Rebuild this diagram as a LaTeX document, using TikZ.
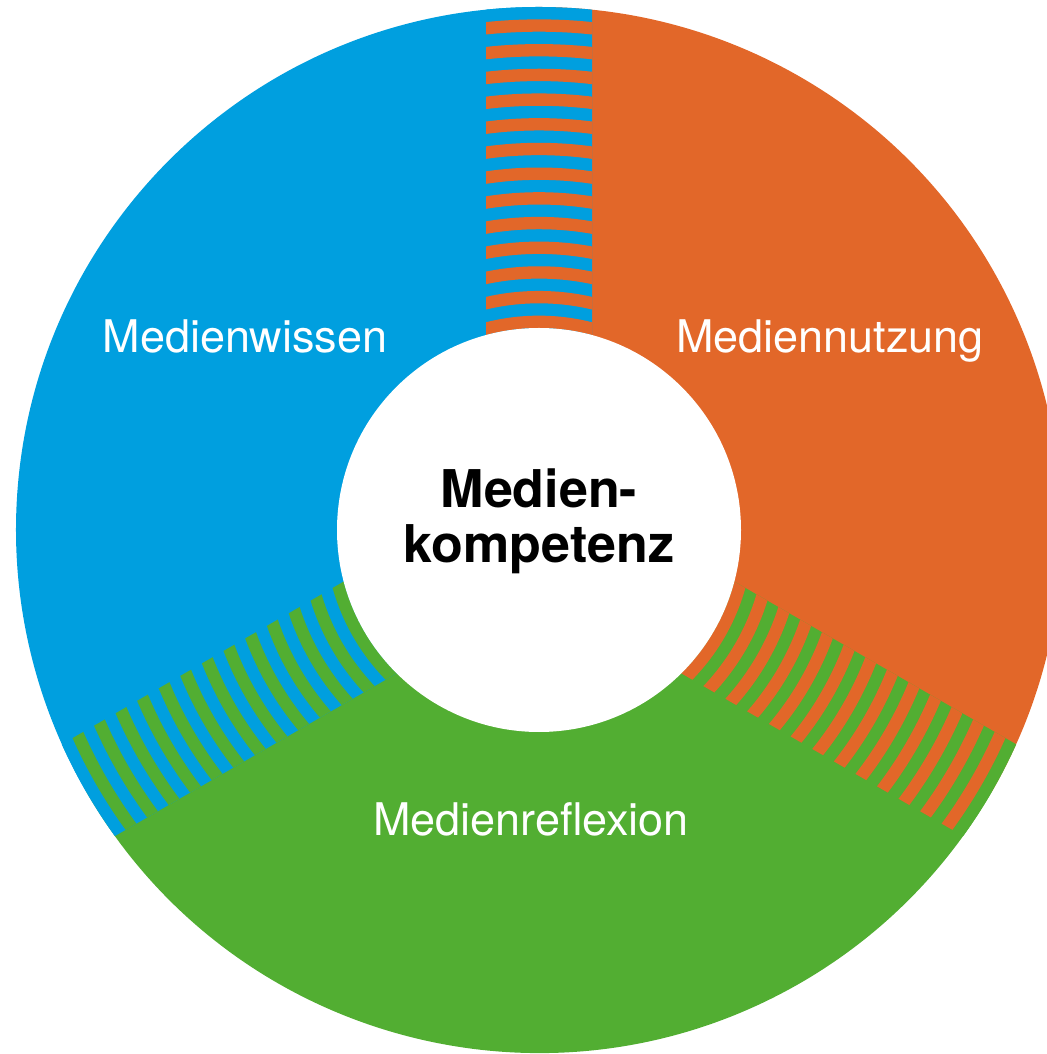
\documentclass[tikz,border=0pt]{standalone}
\usepackage{fontspec}
\setmainfont{TeX Gyre Heros}
\definecolor{mwblau}{RGB}{0,159,223}
\definecolor{mnorange}{RGB}{226,103,41}
\definecolor{mrgruen}{RGB}{82,174,50}

\begin{document}
\begin{tikzpicture}[
    segtext/.style={white,anchor=base,font=\fontsize{25.6}{30}\selectfont},
    kerntext/.style={black,align=center,font=\bfseries\fontsize{29.6}{31.3}\selectfont}]
\def\aussen{10.46}
\def\innen{4.04}
\def\streifen{0.2469}
\useasboundingbox (-10.78,-10.48) rectangle (10.16,10.6);
\clip (-10.78,-10.48) rectangle (10.16,10.6);
% drei Segmente
\fill[mwblau] (0,0) -- (90:\aussen) arc (90:210:\aussen) -- cycle;
\fill[mrgruen] (0,0) -- (210:\aussen) arc (210:330:\aussen) -- cycle;
\fill[mnorange] (0,0) -- (330:\aussen) arc (330:450:\aussen) -- cycle;
% gestreifte Uebergaenge
\foreach \w/\a/\b in {90/mnorange/mwblau, 210/mrgruen/mwblau, 330/mnorange/mrgruen} {
  \begin{scope}
    \clip[rotate=\w] (0,-1.06) rectangle (11,1.06);
    \fill[\b] (0,0) circle [radius=\aussen];
    \foreach \k in {0,2,...,24}
      \fill[\a,even odd rule] (0,0) circle [radius={\innen+\k*\streifen}]
        circle [radius={\innen+(\k+1)*\streifen}];
  \end{scope}
}
\fill[white] (0,0) circle [radius=\innen];
\node[kerntext] (kern) at (0,0.18) {Medien-\\kompetenz};
\node[segtext] (wissen) at (-5.88,3.54) {Medienwissen};
\node[segtext] (nutzung) at (5.82,3.54) {Mediennutzung};
\node[segtext] (reflexion) at (-0.16,-6.1) {Medienreflexion};
\end{tikzpicture}
\end{document}
